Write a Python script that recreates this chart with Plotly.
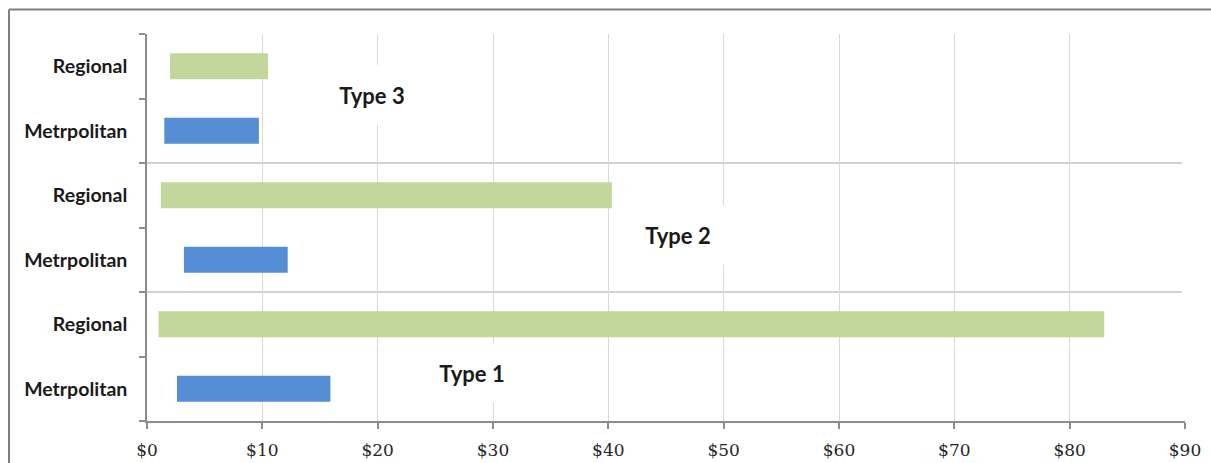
import plotly.graph_objects as go

# ---- data ----
groups = ["Type 1", "Type 2", "Type 3"]
segments = ["Metrpolitan", "Regional"]
metro_start = [2.6, 3.2, 1.5]
metro_end = [15.9, 12.2, 9.7]
regional_start = [1.0, 1.2, 2.0]
regional_end = [83.0, 40.3, 10.5]
x_ticks = [0, 10, 20, 30, 40, 50, 60, 70, 80, 90]
group_label_x = [28.2, 46.0, 19.5]
group_label_y_offset = [0.24, 0.38, 0.55]

colors = {"Metrpolitan": "#558ed5", "Regional": "#c3d69b"}

# y positions: each group occupies two slots (Metro, Regional), bottom-up
metro_y = [2 * i for i in range(len(groups))]
regional_y = [2 * i + 1 for i in range(len(groups))]

fig = go.Figure()
fig.add_trace(go.Bar(
    y=metro_y, base=metro_start,
    x=[e - s for s, e in zip(metro_start, metro_end)],
    orientation="h", width=0.4, marker_color=colors["Metrpolitan"],
    marker_line_width=0, name="Metrpolitan", showlegend=False))
fig.add_trace(go.Bar(
    y=regional_y, base=regional_start,
    x=[e - s for s, e in zip(regional_start, regional_end)],
    orientation="h", width=0.4, marker_color=colors["Regional"],
    marker_line_width=0, name="Regional", showlegend=False))

tickvals = sorted(metro_y + regional_y)
ticktext = ["<b>" + segments[v % 2] + "</b>" for v in tickvals]
n = len(tickvals)

# separators between groups
for i in range(1, len(groups)):
    yb = 2 * i - 0.5
    fig.add_shape(type="line", xref="paper", yref="y", x0=0, x1=0.997, y0=yb, y1=yb,
                  line=dict(color="#a6a6a6", width=1.2), layer="below")

# group labels
for g, gx, gy, base in zip(groups, group_label_x, group_label_y_offset, metro_y):
    fig.add_annotation(x=gx, y=base + gy, text="<b>" + g + "</b>", showarrow=False,
                       font=dict(family="Lato, Open Sans, sans-serif", size=22, color="#1a1a1a"),
                       bgcolor="white", width=128, height=56)

# outer frame (top and left border of the chart image)
fx0 = (9 - 147) / 1038
fy1 = (421 - 9.5) / 387
fig.add_shape(type="line", xref="paper", yref="paper", x0=fx0, x1=(1211 - 147) / 1038,
              y0=fy1, y1=fy1, line=dict(color="#7f7f7f", width=2), layer="below")
fig.add_shape(type="line", xref="paper", yref="paper", x0=fx0, x1=fx0,
              y0=fy1, y1=(421 - 463) / 387, line=dict(color="#7f7f7f", width=2), layer="below")

fig.update_layout(
    width=1211, height=463,
    margin=dict(l=147, r=26, t=34, b=42),
    plot_bgcolor="white", paper_bgcolor="white",
    barmode="overlay",
    xaxis=dict(range=[0, 90], tickvals=x_ticks,
               ticktext=["$" + str(v) for v in x_ticks],
               showgrid=True, gridcolor="#d9d9d9", gridwidth=1.2,
               showline=True, linecolor="#8c8c8c", linewidth=1.5,
               ticks="outside", ticklen=6, tickcolor="#8c8c8c", tickwidth=1.5,
               ticklabelstandoff=7, automargin=False,
               tickfont=dict(family="DejaVu Serif, Liberation Serif, serif", size=17, color="#262626"),
               zeroline=False, fixedrange=True),
    yaxis=dict(range=[-0.5, n - 0.5], tickvals=tickvals, ticktext=ticktext,
               showgrid=False, zeroline=False,
               showline=True, linecolor="#8c8c8c", linewidth=1.5,
               ticks="", ticklabelstandoff=14, automargin=False,
               minor=dict(tick0=0.5, dtick=1, ticks="outside", ticklen=6,
                          tickcolor="#8c8c8c", tickwidth=1.5, showgrid=False),
               tickfont=dict(family="Lato, Open Sans, sans-serif", size=19.5, color="#1a1a1a"),
               fixedrange=True),
    font=dict(family="Lato, sans-serif"),
)

fig.write_html("out.html")
